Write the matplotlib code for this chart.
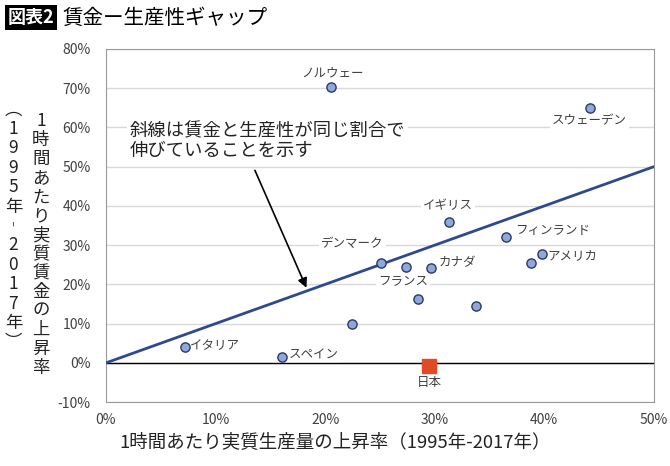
import numpy as np
import matplotlib.pyplot as plt

plt.rcParams['font.family'] = ['Noto Sans CJK JP', 'DejaVu Sans']

# 各国のデータ（1995年-2017年の上昇率, %）
countries = ['ノルウェー', 'スウェーデン', 'イギリス', 'フィンランド', 'アメリカ', '',
             'デンマーク', 'フランス', 'カナダ', '', '', '', 'イタリア', 'スペイン']
prod = [20.5, 44.2, 31.3, 36.5, 39.8, 38.8, 25.1, 27.4, 29.7, 28.5, 33.8, 22.5, 7.2, 16.1]
wage = [70.3, 65.0, 35.8, 32.0, 27.7, 25.4, 25.4, 24.4, 24.1, 16.2, 14.5, 9.9, 4.1, 1.5]
japan_prod = 29.5
japan_wage = -0.8

# ラベル位置 (x, y, ha)
lab_pos = {
    'ノルウェー': (20.7, 73.9, 'center'),
    'スウェーデン': (44.1, 61.8, 'center'),
    'イギリス': (31.2, 40.1, 'center'),
    'フィンランド': (37.3, 33.8, 'left'),
    'アメリカ': (40.3, 27.4, 'left'),
    'デンマーク': (22.5, 30.5, 'center'),
    'フランス': (27.1, 20.8, 'center'),
    'カナダ': (30.4, 25.6, 'left'),
    'イタリア': (7.7, 4.3, 'left'),
    'スペイン': (16.7, 2.0, 'left'),
}

fig = plt.figure(figsize=(6.7, 4.66), dpi=100)
ax = fig.add_axes([0.158, 0.137, 0.818, 0.758])

ax.set_xlim(0, 50)
ax.set_ylim(-10, 80)
ax.set_yticks(np.arange(-10, 81, 10))
ax.set_xticks(np.arange(0, 51, 10))
ax.set_yticklabels([f'{v}%' for v in range(-10, 81, 10)])
ax.set_xticklabels([f'{v}%' for v in range(0, 51, 10)])
ax.grid(axis='y', color='#d9d9d9', lw=1)
ax.set_axisbelow(True)
ax.tick_params(length=0, labelsize=10, colors='#404040', pad=11)
ax.tick_params(axis='x', pad=8)
for s in ax.spines.values():
    s.set_color('#999999')
ax.axhline(0, color='black', lw=1, zorder=2)

# 斜線（賃金＝生産性）
ax.plot([0, 50], [0, 50], color='#2e4a8c', lw=2, zorder=3)

ax.scatter(prod, wage, s=44, color='#8ea7dc', edgecolor='#2c3a5c', lw=1, zorder=4)
ax.scatter([japan_prod], [japan_wage], s=115, marker='s', color='#e04a25', zorder=4)

for name in countries:
    if name:
        x, y, ha = lab_pos[name]
        ax.text(x, y, name, ha=ha, va='center', fontsize=9, color='#404040', zorder=1,
                bbox=dict(facecolor='white', edgecolor='none', pad=1.5))
ax.text(japan_prod, -5.1, '日本', ha='center', va='center', fontsize=9, color='#404040')

ax.text(2.2, 56.5, '斜線は賃金と生産性が同じ割合で\n伸びていることを示す', ha='left', va='center',
        fontsize=13.2, color='#222222', linespacing=1.05, zorder=1,
        bbox=dict(facecolor='white', edgecolor='none', pad=2))
ax.annotate('', xy=(18.4, 18.5), xytext=(13.5, 49.7),
            arrowprops=dict(arrowstyle='-|>', color='black', lw=1.2, mutation_scale=14), zorder=5)

fig.text(0.5, 0.052, '1時間あたり実質生産量の上昇率（1995年-2017年）', ha='center', va='center',
         fontsize=13.3, color='#222222')

# 縦書きのy軸ラベル
ylab1 = '1時間あたり実質賃金の上昇率'
ylab2 = '︵1995年︲2017年︶'
fig.text(0.061, 0.475, '\n'.join(ylab1), ha='center', va='center', fontsize=12.5,
         color='#222222', linespacing=1.07)
fig.text(0.02, 0.515, '\n'.join(ylab2), ha='center', va='center', fontsize=12.5,
         color='#222222', linespacing=1.1)

# タイトル
fig.text(0.012, 0.962, '図表2', ha='left', va='center', fontsize=13, fontweight='bold', color='white',
         bbox=dict(facecolor='black', edgecolor='none', pad=2))
fig.text(0.093, 0.962, '賃金ー生産性ギャップ', ha='left', va='center', fontsize=14.8,
         fontweight='normal', color='black')

fig.savefig('out.png', dpi=100)
